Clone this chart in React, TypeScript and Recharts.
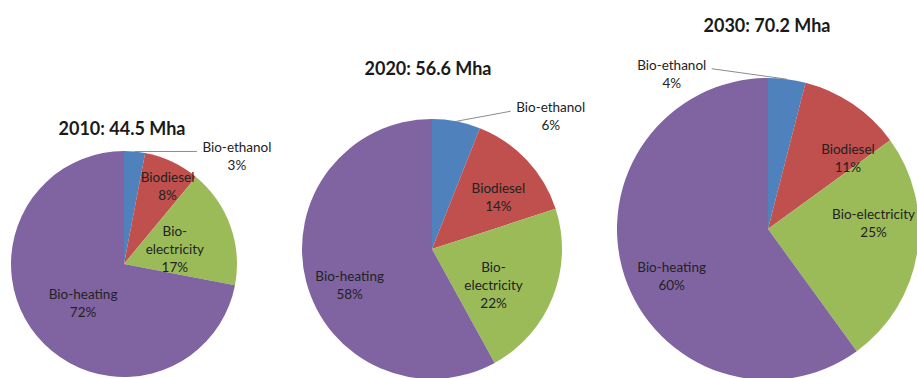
import React from 'react';
import { PieChart, Pie, Cell } from 'recharts';

// shares (%) of each bio-energy use, per year
const years = ['2010', '2020', '2030'];
const totalsMha = [44.5, 56.6, 70.2];
const sectors = ['Bio-ethanol', 'Biodiesel', 'Bio-electricity', 'Bio-heating'];
const share2010 = [3, 8, 17, 72];
const share2020 = [6, 14, 22, 58];
const share2030 = [4, 11, 25, 60];

const shares = [share2010, share2020, share2030];
const colors = ['#4f81bd', '#c0504d', '#9bbb59', '#8064a2'];

const RAD = Math.PI / 180;
const FONT = 'Lato, "Open Sans", sans-serif';

// where each pie sits and how its labels are placed (f = radius factor, da = angle shift)
const layout = [
  {
    cx: 124, cy: 264, r: 113, titleX: 122, titleY: 117, split: true,
    labels: [{ f: 1.38, da: -41 }, { f: 0.79, da: -4 }, { f: 0.47, da: -3 }, { f: 0.5, da: 4 }],
  },
  {
    cx: 432, cy: 249, r: 130, titleX: 428, titleY: 57, split: true,
    labels: [{ f: 1.37, da: -31 }, { f: 0.65, da: -5 }, { f: 0.55, da: -9 }, { f: 0.69, da: 9 }],
  },
  {
    cx: 768, cy: 229, r: 151, titleX: 767, titleY: 14, split: false,
    labels: [{ f: 1.21, da: 39 }, { f: 0.71, da: -14 }, { f: 0.7, da: 12 }, { f: 0.71, da: 8 }],
  },
];

const makeLabel = (cfg: any) => (props: any) => {
  const { cx, cy, midAngle, outerRadius, index, name, value } = props;
  const pos = cfg.labels[index];
  const a = (midAngle + pos.da) * RAD;
  const x = cx + outerRadius * pos.f * Math.cos(a);
  const y = cy - outerRadius * pos.f * Math.sin(a);
  let lines: string[] = [name, `${value}%`];
  if (name === 'Bio-electricity' && cfg.split) lines = ['Bio-', 'electricity', `${value}%`];
  const lh = 18;
  const y0 = y - ((lines.length - 1) * lh) / 2;
  let leader = null;
  if (index === 0) {
    const sx = cx + outerRadius * Math.cos(midAngle * RAD);
    const sy = cy - outerRadius * Math.sin(midAngle * RAD);
    const side = x > sx ? -1 : 1;
    leader = <line x1={sx} y1={sy} x2={x + side * 40} y2={y0 + 4} stroke="#8c8c8c" strokeWidth={1} />;
  }
  return (
    <g>
      {leader}
      <text x={x} textAnchor="middle" fontFamily={FONT} fontSize={13.5} fill="#222">
        {lines.map((l, i) => (
          <tspan key={i} x={x} y={y0 + i * lh} dominantBaseline="central">{l}</tspan>
        ))}
      </text>
    </g>
  );
};

export default function App() {
  return (
    <div style={{ position: 'absolute', left: 0, top: 0, width: 917, height: 378, background: '#fff', overflow: 'hidden' }}>
      <PieChart width={917} height={378} margin={{ top: 0, right: 0, bottom: 0, left: 0 }}>
        {layout.map((cfg, p) => (
          <Pie
            key={years[p]}
            data={sectors.map((s, i) => ({ name: s, value: shares[p][i] }))}
            dataKey="value"
            nameKey="name"
            cx={cfg.cx}
            cy={cfg.cy}
            outerRadius={cfg.r}
            startAngle={90}
            endAngle={-270}
            stroke="none"
            labelLine={false}
            label={makeLabel(cfg)}
            isAnimationActive={false}
          >
            {sectors.map((s, i) => (
              <Cell key={s} fill={colors[i]} />
            ))}
          </Pie>
        ))}
      </PieChart>
      {layout.map((cfg, p) => (
        <div
          key={years[p]}
          style={{
            position: 'absolute', left: cfg.titleX - 100, top: cfg.titleY, width: 200, textAlign: 'center',
            fontFamily: FONT, fontWeight: 700, fontSize: 18, color: '#1a1a1a', lineHeight: '22px',
          }}
        >
          {`${years[p]}: ${totalsMha[p]} Mha`}
        </div>
      ))}
    </div>
  );
}
